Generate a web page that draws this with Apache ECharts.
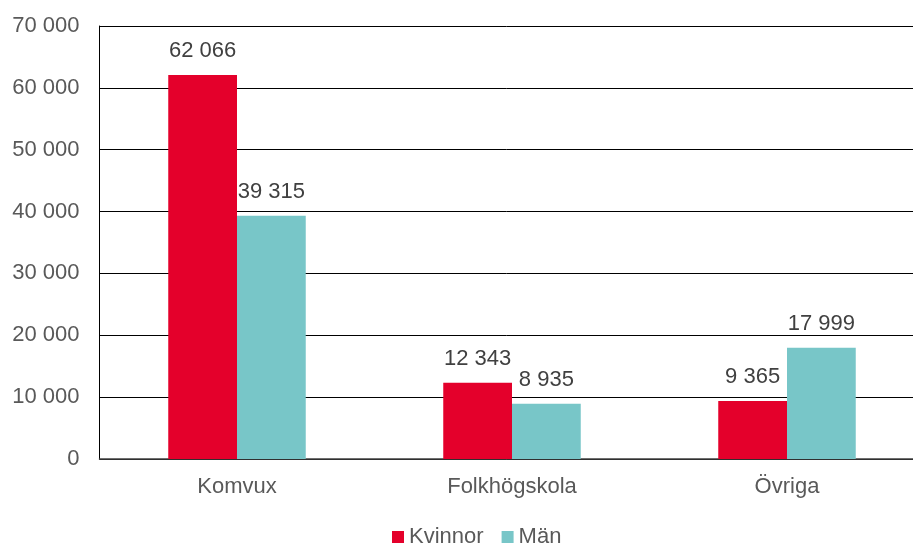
<!DOCTYPE html>
<html>
<head>
<meta charset="utf-8">
<script src="https://cdn.jsdelivr.net/npm/echarts@6/dist/echarts.min.js"></script>
<style>
  html, body { margin: 0; padding: 0; background: #fff; }
  #chart { width: 913px; height: 543px; }
</style>
</head>
<body>
<div id="chart"></div>
<script>
const categories = ["Komvux", "Folkhögskola", "Övriga"];
const kvinnor = [62066, 12343, 9365];
const man = [39315, 8935, 17999];
const seriesNames = ["Kvinnor", "Män"];

const fmt = (v) => String(v).replace(/\B(?=(\d{3})+(?!\d))/g, " ");
const font = "Arial, 'Liberation Sans', sans-serif";

const chart = echarts.init(document.getElementById("chart"), null, { renderer: "canvas" });

const option = {
  animation: false,
  grid: { left: 99.5, width: 825, top: 26, bottom: 84, outerBoundsMode: "none", containLabel: false },
  legend: {
    top: 521,
    left: 387,
    itemWidth: 12,
    itemHeight: 12,
    itemGap: 18,
    icon: "rect",
    textStyle: { fontFamily: font, fontSize: 22, color: "#595959" },
    data: seriesNames
  },
  xAxis: {
    type: "category",
    data: categories,
    axisLine: { lineStyle: { color: "#404040", width: 1.5 } },
    axisTick: { show: false },
    axisLabel: { fontFamily: font, fontSize: 22, color: "#595959", margin: 17 }
  },
  yAxis: {
    type: "value",
    min: 0,
    max: 70000,
    interval: 10000,
    axisLine: { show: true, lineStyle: { color: "#000", width: 1 } },
    axisTick: { show: false },
    splitLine: { lineStyle: { color: "#000", width: 1 } },
    axisLabel: { fontFamily: font, fontSize: 22, color: "#595959", margin: 20, formatter: fmt }
  },
  series: [
    {
      name: seriesNames[0],
      type: "bar",
      data: kvinnor,
      barGap: "0%",
      barCategoryGap: "50%",
      itemStyle: { color: "#E4002B" },
      label: { show: true, position: "top", distance: 13, fontFamily: font, fontSize: 22, color: "#404040", formatter: (p) => fmt(p.value) }
    },
    {
      name: seriesNames[1],
      type: "bar",
      data: man,
      barGap: "0%",
      barCategoryGap: "50%",
      itemStyle: { color: "#78C6C8" },
      label: { show: true, position: "top", distance: 13, fontFamily: font, fontSize: 22, color: "#404040", formatter: (p) => fmt(p.value) }
    }
  ]
};
chart.setOption(option);
</script>
</body>
</html>
